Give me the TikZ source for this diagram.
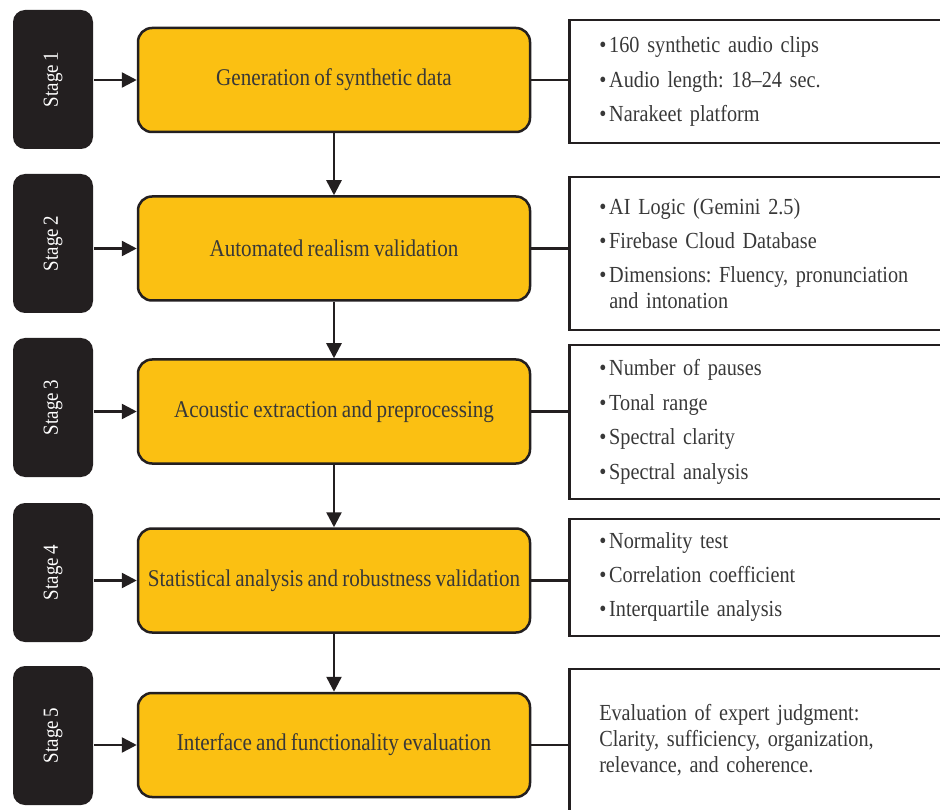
\documentclass[tikz,border=0pt]{standalone}
\usepackage{fontspec}
\setmainfont[FakeStretch=0.88, WordSpace=0.8]{Liberation Serif}
\usepackage{graphicx}
\usepackage{tikz}
\usetikzlibrary{arrows.meta, positioning}
\definecolor{stageyellow}{HTML}{FBC012}
\definecolor{ink}{HTML}{231F20}
\definecolor{textgray}{HTML}{383838}
\newcommand{\bul}{\makebox[10pt][l]{•}}
\frenchspacing
\tikzset{
  every picture/.style={line width=2.5pt},
  flow/.style={-{Triangle[length=15pt, width=15pt]}, ink},
  link/.style={ink},
}

\begin{document}
\begin{tikzpicture}[x=1pt, y=1pt,
  stagebox/.style={fill=ink, rounded corners=12pt, minimum width=80pt, minimum height=139pt, text=white, inner sep=0pt, font=\fontsize{21.5}{24}\selectfont},
  procbox/.style={draw=ink, fill=stageyellow, rounded corners=14pt, minimum width=392pt, minimum height=104pt, text=textgray, inner sep=2pt, font=\fontsize{24}{28}\selectfont},
  detbox/.style={draw=ink, anchor=west, text=textgray, inner xsep=30pt, inner ysep=4pt, text width=340pt, align=left, font=\fontsize{23}{26}\selectfont}]
  \useasboundingbox (0,0) rectangle (940,-810);
  \clip (0,0) rectangle (940,-810);
  \node[stagebox] (s1) at (53,-79.5) {\rotatebox{90}{Stage 1}};
  \node[stagebox] (s2) at (53,-243.5) {\rotatebox{90}{Stage 2}};
  \node[stagebox] (s3) at (53,-407.5) {\rotatebox{90}{Stage 3}};
  \node[stagebox] (s4) at (53,-572.5) {\rotatebox{90}{Stage 4}};
  \node[stagebox] (s5) at (53,-735.5) {\rotatebox{90}{Stage 5}};
  \node[procbox] (p1) at (334,-80) {Generation of synthetic data};
  \node[procbox] (p2) at (334,-248.5) {Automated realism validation};
  \node[procbox] (p3) at (334,-411.5) {Acoustic extraction and preprocessing};
  \node[procbox] (p4) at (334,-580.5) {Statistical analysis and robustness validation};
  \node[procbox] (p5) at (334,-745) {Interface and functionality evaluation};
  \node[detbox, minimum height=123pt] (d1) at (568,-81.5) {\bul 160 synthetic audio clips\\[8.5pt] \bul Audio length: 18--24 sec.\\[8.5pt] \bul Narakeet platform};
  \node[detbox, minimum height=153pt] (d2) at (568,-253.5) {\bul AI Logic (Gemini 2.5)\\[8pt] \bul Firebase Cloud Database\\[8pt] \bul Dimensions: Fluency, pronunciation\\ \hspace*{10pt}and intonation};
  \node[detbox, minimum height=154pt] (d3) at (568,-422) {\bul Number of pauses\\[8.5pt] \bul Tonal range\\[8.5pt] \bul Spectral clarity\\[8.5pt] \bul Spectral analysis};
  \node[detbox, minimum height=117pt] (d4) at (568,-577.5) {\bul Normality test\\[8pt] \bul Correlation coefficient\\[8pt] \bul Interquartile analysis};
  \node[detbox, minimum height=142pt] (d5) at (568,-740) {Evaluation of expert judgment:\\ Clarity, sufficiency, organization,\\ relevance, and coherence.};
  \foreach \n in {1,...,5} \draw[flow] (s\n.east |- p\n.west) -- (p\n.west);
  \foreach \n in {1,...,5} \draw[link] (p\n.east) -- (p\n.east -| d\n.west);
  \foreach \a/\b in {p1/p2,p2/p3,p3/p4,p4/p5} \draw[flow] (\a) -- (\b);
\end{tikzpicture}
\end{document}
